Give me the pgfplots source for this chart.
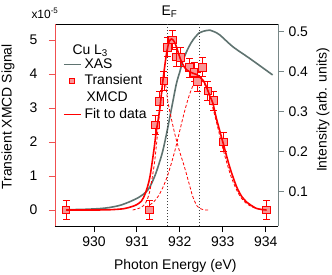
\documentclass[border=0pt]{standalone}
\usepackage{pgfplots}
\pgfplotsset{compat=1.18}
\usepackage{fontspec}
\setmainfont{Liberation Sans}
\definecolor{xasgray}{RGB}{95,115,112}
\definecolor{axred}{RGB}{240,80,80}
\definecolor{axgray}{RGB}{120,135,135}
\definecolor{mkfill}{RGB}{248,150,150}
\newcommand{\fs}{\fontsize{14}{16}\selectfont}
\begin{document}
\begin{tikzpicture}
\path[use as bounding box] (-55bp,-49bp) rectangle (277bp,226bp);
\pgfplotsset{
  every axis/.append style={
    width=223bp, height=202bp, scale only axis,
    xmin=929.093, xmax=934.286,
    tick align=outside, major tick length=6bp,
    clip mode=individual,
    /pgf/number format/assume math mode=true,
    axis line style={-, line width=0.8bp},
  }
}
% ---------- right axis (XAS) ----------
\begin{axis}[
  axis x line*=top, axis y line*=right,
  xtick=\empty,
  x axis line style={black},
  ymin=0.01425, ymax=0.5193,
  ytick={0.1,0.2,0.3,0.4,0.5},
  y axis line style={axgray},
  ytick style={axgray, line width=0.8bp},
  yticklabel style={font=\fs, xshift=1bp},
  ylabel={Intensity (arb. units)},
  ylabel style={font=\fs, at={(rel axis cs:1,0.574)}, anchor=center, rotate=0, yshift=-45bp},
]
\addplot[xasgray, line width=1.6bp, smooth] coordinates {
(929.35,0.055) (929.8,0.056) (930.26,0.059) (930.64,0.067) (931.03,0.085)
(931.26,0.105) (931.42,0.14) (931.53,0.175) (931.61,0.205) (931.7,0.25)
(931.81,0.31) (931.92,0.37) (932.0,0.40) (932.08,0.43) (932.2,0.46)
(932.31,0.48) (932.45,0.497) (932.54,0.501) (932.7,0.504) (932.8,0.50)
(932.93,0.492) (933.24,0.462) (933.63,0.433) (934.16,0.392)};
\end{axis}
% ---------- left axis (XMCD) ----------
\begin{axis}[
  axis x line*=bottom, axis y line*=left,
  ymin=-0.47, ymax=5.47,
  ytick={0,1,2,3,4,5},
  xtick={930,931,932,933,934},
  x axis line style={black},
  y axis line style={axred},
  xtick style={black, line width=0.8bp},
  ytick style={axred, line width=0.8bp},
  yticklabel style={font=\fs, xshift=-8bp},
  xticklabel style={font=\fs, yshift=-1.5bp},
  xlabel={Photon Energy (eV)},
  xlabel style={font=\fs, at={(rel axis cs:0.54,0)}, anchor=base, yshift=-43bp},
  ylabel={Transient XMCD Signal},
  ylabel style={font=\fs, at={(rel axis cs:0,0.54)}, anchor=center, yshift=47bp},
  legend style={draw=none, fill=none, at={(rel axis cs:0,1)}, anchor=north west,
    xshift=8bp, yshift=-34bp, inner sep=0pt, outer sep=0pt,
    font=\fs, row sep=3.7bp, column sep=3bp,
    nodes={inner sep=0bp, text height=10bp, text depth=3bp}},
  legend cell align=left,
]
\addlegendimage{legend image code/.code={\draw[xasgray, line width=1.6bp] (0bp,0bp) -- (17bp,0bp);}}
\addlegendentry{XAS}
% dotted markers
\addplot[black!75, line width=0.8bp, dash pattern=on 1bp off 2bp, forget plot] coordinates {(931.71,-0.47) (931.71,5.47)};
\addplot[black!75, line width=0.8bp, dash pattern=on 1bp off 2bp, forget plot] coordinates {(932.45,-0.47) (932.45,5.47)};
% components
\addplot[red, line width=0.8bp, dash pattern=on 3bp off 2bp, smooth, forget plot] coordinates {
(930.9,0.0) (931.0,0.03) (931.1,0.08) (931.2,0.2) (931.3,0.55) (931.4,1.3)
(931.45,1.85) (931.5,2.5) (931.55,3.15) (931.6,3.7) (931.64,3.9) (931.68,3.6)
(931.72,3.2) (931.8,2.7) (931.9,2.15) (932.0,1.7) (932.1,1.3) (932.2,0.85)
(932.3,0.4) (932.4,0.12) (932.5,0.03) (932.6,0.0) (932.7,0.0)};
\addplot[red, line width=0.8bp, dash pattern=on 3bp off 2bp, smooth, forget plot] coordinates {
(931.2,0.08) (931.3,0.15) (931.4,0.25) (931.5,0.41) (931.6,0.65) (931.7,0.96)
(931.8,1.36) (931.9,1.82) (932.0,2.34) (932.1,2.85) (932.2,3.30) (932.3,3.64)
(932.4,3.83) (932.5,3.83) (932.6,3.64) (932.7,3.30) (932.8,2.85) (932.9,2.34)
(933.0,1.82) (933.1,1.36) (933.2,0.96) (933.3,0.65) (933.4,0.41) (933.5,0.25)
(933.6,0.15) (933.7,0.08) (933.8,0.04) (934.0,0.01)};
% data
\addplot[only marks, mark=square*, mark size=3.8bp,
  mark options={draw=red, fill=mkfill, line width=0.8bp},
  legend image code/.code={\draw[mark=square*, mark size=2.4bp, mark options={draw=red, fill=mkfill, line width=0.8bp}] plot coordinates {(8.5bp,0bp)};},
  error bars/.cd, y dir=both, y explicit,
  error bar style={red, line width=0.8bp},
  error mark options={rotate=90, red, mark size=3.5bp, line width=0.8bp}]
  table[x=x, y=y, y error=e] {
x y e
929.35 0 0.29
931.29 0 0.29
931.43 2.5 0.28
931.53 3.2 0.28
931.63 3.8 0.28
931.71 4.79 0.28
931.82 5.0 0.28
931.92 4.5 0.28
932.02 4.49 0.28
932.22 4.19 0.28
932.33 4.05 0.28
932.41 3.78 0.28
932.52 4.2 0.28
932.65 3.5 0.28
932.78 3.22 0.28
933.01 2.0 0.28
934.02 0 0.29
};
\addlegendentry{Transient}
\addlegendimage{empty legend}
\addlegendentry{\hspace{2bp}XMCD}
% fit
\addplot[red, line width=1.6bp, smooth,
  legend image code/.code={\draw[red, line width=1.6bp] (0bp,0bp) -- (17bp,0bp);}] coordinates {
(929.35,0) (930.0,0.0) (930.4,0.01) (930.7,0.04) (930.88,0.1) (931.0,0.16)
(931.11,0.27) (931.2,0.5) (931.3,0.95) (931.4,1.8) (931.45,2.3) (931.53,2.95)
(931.61,3.85) (931.69,4.6) (931.75,4.95) (931.81,5.03) (931.87,4.95) (931.92,4.8)
(932.04,4.35) (932.16,4.12) (932.31,4.02) (932.4,3.98) (932.47,3.9) (932.55,3.8)
(932.62,3.62) (932.7,3.35) (932.77,3.14) (932.85,2.7) (933.01,1.96) (933.16,1.27)
(933.32,0.69) (933.45,0.38) (933.55,0.24) (933.78,0.05) (934.02,0.0)};
\addlegendentry{Fit to data}
\node[anchor=base west, font=\fs] at (rel axis cs:0,1) [xshift=14bp, yshift=-30bp] {Cu L\textsubscript{3}};
\node[anchor=base, font=\fs] at (axis cs:931.76,5.47) [yshift=9bp] {E\textsubscript{F}};
\node[anchor=base west, font=\fontsize{12}{14}\selectfont] at (rel axis cs:0,1) [xshift=-27bp, yshift=6bp] {x10\textsuperscript{-5}};
\end{axis}
\end{tikzpicture}
\end{document}
